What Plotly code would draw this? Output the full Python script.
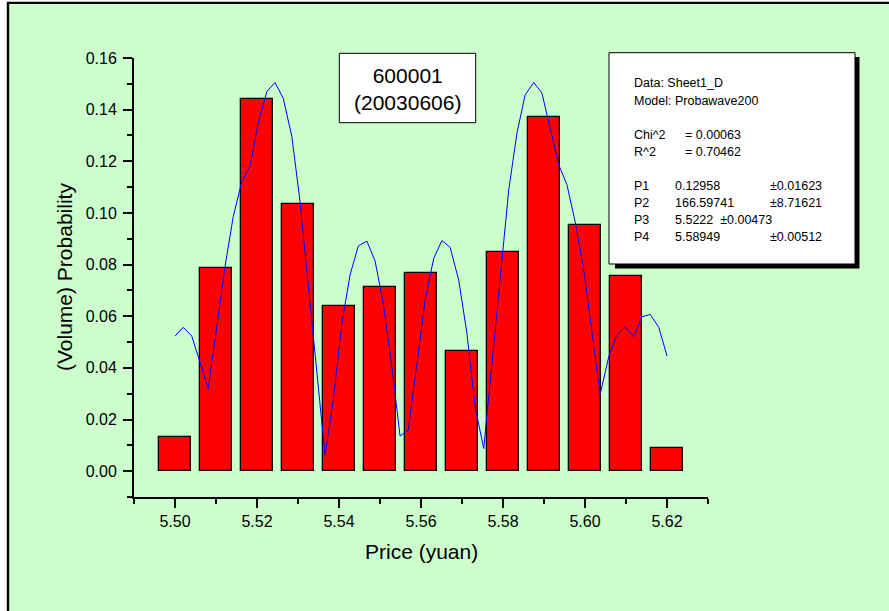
import plotly.graph_objects as go

# ---------------- data ----------------
bar_prices = [5.50, 5.51, 5.52, 5.53, 5.54, 5.55, 5.56, 5.57, 5.58, 5.59, 5.60, 5.61, 5.62]
bar_probs = [0.0132, 0.0785, 0.1442, 0.1036, 0.0641, 0.0714, 0.0767, 0.0466,
             0.0848, 0.1372, 0.0955, 0.0756, 0.0090]

fit_x = [5.5000, 5.5020, 5.5041, 5.5061, 5.5081, 5.5102, 5.5122, 5.5142, 5.5163, 5.5183,
         5.5203, 5.5224, 5.5244, 5.5264, 5.5285, 5.5305, 5.5325, 5.5346, 5.5366, 5.5386,
         5.5407, 5.5427, 5.5447, 5.5468, 5.5488, 5.5508, 5.5529, 5.5549, 5.5569, 5.5590,
         5.5610, 5.5631, 5.5651, 5.5671, 5.5692, 5.5712, 5.5732, 5.5753, 5.5773, 5.5793,
         5.5814, 5.5834, 5.5854, 5.5875, 5.5895, 5.5915, 5.5936, 5.5956, 5.5976, 5.5997,
         5.6017, 5.6037, 5.6058, 5.6078, 5.6098, 5.6119, 5.6139, 5.6159, 5.6180, 5.6200]
fit_y = [0.0523, 0.0557, 0.0523, 0.0424, 0.0320, 0.0560, 0.0792, 0.0986, 0.1121, 0.1182,
         0.1348, 0.1470, 0.1505, 0.1444, 0.1296, 0.1043, 0.0727, 0.0395, 0.0062, 0.0275,
         0.0572, 0.0760, 0.0872, 0.0891, 0.0814, 0.0650, 0.0404, 0.0136, 0.0159, 0.0417,
         0.0663, 0.0824, 0.0893, 0.0867, 0.0740, 0.0534, 0.0249, 0.0088, 0.0421, 0.0756,
         0.1089, 0.1309, 0.1457, 0.1505, 0.1464, 0.1328, 0.1186, 0.1109, 0.0966, 0.0779,
         0.0547, 0.0298, 0.0443, 0.0530, 0.0557, 0.0521, 0.0598, 0.0607, 0.0557, 0.0446]

x_ticks = [5.50, 5.52, 5.54, 5.56, 5.58, 5.60, 5.62]
y_ticks = [0.00, 0.02, 0.04, 0.06, 0.08, 0.10, 0.12, 0.14, 0.16]

title_text = "600001<br>(20030606)"
fit_info_left = ["Data: Sheet1_D", "Model: Probawave200", "Chi^2", "R^2", "P1", "P2", "P3", "P4"]
fit_info_mid = [None, None, "= 0.00063", "= 0.70462", "0.12958", "166.59741", "5.5222  ±0.00473", "5.58949"]
fit_info_right = [None, None, None, None, "±0.01623", "±8.71621", None, "±0.00512"]

# ---------------- layout geometry (pixels) ----------------
W, H = 889, 611
ML, MR, MT, MB = 134, 181, 58, 114
PW = W - ML - MR
PH = H - MT - MB
FONT = "Liberation Sans, Arial, sans-serif"
GREEN = "#CCFFCC"


def xp(px):
    return (px - ML) / PW


def yp(py):
    return (H - MB - py) / PH


fig = go.Figure()
fig.add_trace(go.Bar(
    x=bar_prices, y=bar_probs, width=0.008,
    marker=dict(color="#FF0000", line=dict(color="#000000", width=1.3)),
    showlegend=False, hoverinfo="x+y",
))
fig.add_trace(go.Scatter(
    x=fit_x, y=fit_y, mode="lines",
    line=dict(color="#0000FF", width=1),
    showlegend=False,
))

shapes = [
    # outer frame (black line at left/top, green page)
    dict(type="rect", xref="paper", yref="paper", layer="below",
         x0=xp(6.8), x1=xp(900), y0=yp(1.7), y1=yp(620),
         fillcolor="#000000", line=dict(width=0)),
    dict(type="rect", xref="paper", yref="paper", layer="below",
         x0=xp(9.2), x1=xp(900), y0=yp(4.0), y1=yp(620),
         fillcolor=GREEN, line=dict(width=0)),
    # fit info box shadow + box
    dict(type="rect", xref="paper", yref="paper",
         x0=xp(615), x1=xp(859.5), y0=yp(57), y1=yp(268.5),
         fillcolor="#000000", line=dict(width=0)),
    dict(type="rect", xref="paper", yref="paper",
         x0=xp(609), x1=xp(855), y0=yp(52.7), y1=yp(264),
         fillcolor="#FFFFFF", line=dict(color="#000000", width=1)),
    # title box
    dict(type="rect", xref="paper", yref="paper",
         x0=xp(339.3), x1=xp(475.7), y0=yp(53.3), y1=yp(122.7),
         fillcolor="#FFFFFF", line=dict(color="#000000", width=1)),
]

annotations = [
    dict(text=title_text, xref="paper", yref="paper", x=xp(407.5), y=yp(88.5),
         xanchor="center", yanchor="middle", showarrow=False,
         font=dict(family=FONT, size=21, color="#000000")),
    dict(text="(Volume) Probability", xref="paper", yref="paper", x=xp(64), y=yp(277),
         xanchor="center", yanchor="middle", showarrow=False, textangle=-90,
         font=dict(family=FONT, size=21, color="#000000")),
    dict(text="Price (yuan)", xref="paper", yref="paper", x=xp(421), y=yp(551),
         xanchor="center", yanchor="middle", showarrow=False,
         font=dict(family=FONT, size=21, color="#000000")),
]

line_y = [82.5, 100.5, 134.5, 151.5, 185.5, 202.5, 219.3, 236]
for i, yy in enumerate(line_y):
    cols = [(631.5, fit_info_left[i]),
            (682.5 if i in (2, 3) else 672.5, fit_info_mid[i]),
            (767.5, fit_info_right[i])]
    for xx, txt in cols:
        if txt:
            annotations.append(dict(
                text=txt, xref="paper", yref="paper", x=xp(xx), y=yp(yy + 0.5),
                xanchor="left", yanchor="middle", showarrow=False,
                font=dict(family=FONT, size=12.5, color="#000000")))

axis_common = dict(
    showline=True, linecolor="#000000", linewidth=2,
    ticks="outside", ticklen=9, tickwidth=2, tickcolor="#000000",
    showgrid=False, zeroline=False,
    tickfont=dict(family=FONT, size=16, color="#000000"),
)

fig.update_layout(
    width=W, height=H,
    margin=dict(l=ML, r=MR, t=MT, b=MB, pad=0),
    paper_bgcolor="#FFFFFF",
    plot_bgcolor="rgba(0,0,0,0)",
    bargap=0,
    xaxis=dict(range=[5.49, 5.63], tickvals=x_ticks,
               ticktext=[f"{v:.2f}" for v in x_ticks],
               minor=dict(ticks="outside", ticklen=5, tickwidth=2, tickcolor="#000000",
                          dtick=0.01, tick0=5.49),
               **axis_common),
    yaxis=dict(range=[-0.01, 0.16], tickvals=y_ticks,
               ticktext=[f"{v:.2f}" for v in y_ticks],
               ticklabelstandoff=3,
               minor=dict(ticks="outside", ticklen=5, tickwidth=2, tickcolor="#000000",
                          dtick=0.01, tick0=-0.01),
               **axis_common),
    shapes=shapes,
    annotations=annotations,
    showlegend=False,
)

fig.write_html(
    "out.html",
    config={"displayModeBar": False},
    post_script="document.body.style.margin='0';document.body.style.overflow='hidden';",
)
